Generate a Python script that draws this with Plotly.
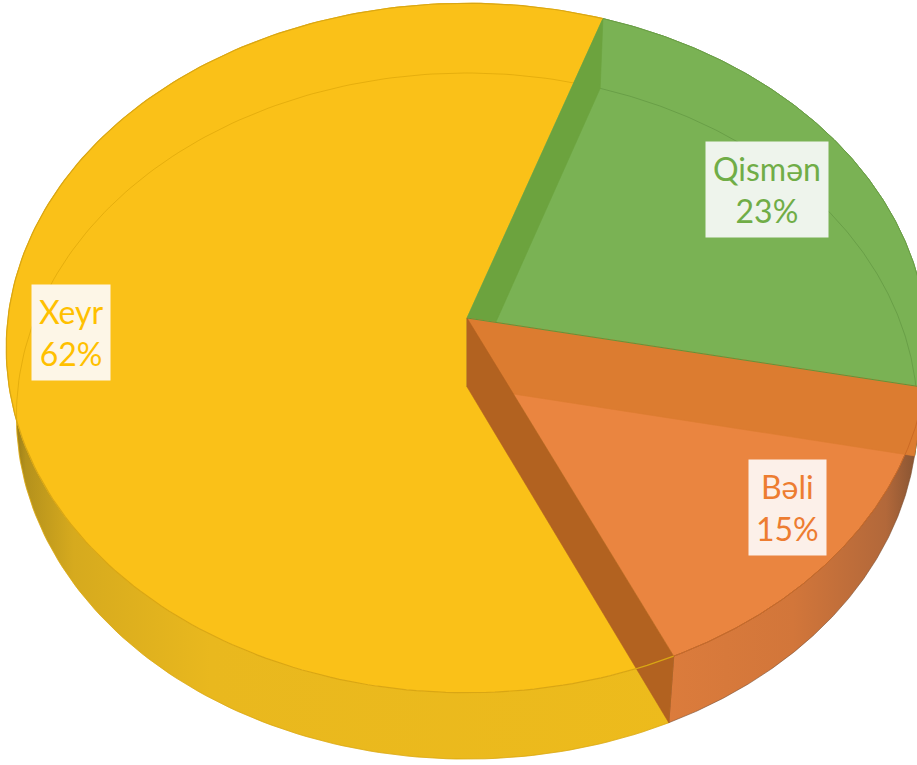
import numpy as np
import plotly.graph_objects as go

# ---------------- data ----------------
categories = ["Xeyr", "Qismən", "Bəli"]
values = [62, 23, 15]

# ---------------- styles ----------------
first_slice_angle = 155.5          # degrees, clockwise from the back of the pie
top_colors = {"Xeyr": "#FAC118", "Qismən": "#7AB254", "Bəli": "#EA8540"}
label_text_colors = {"Xeyr": "#FFC000", "Qismən": "#70AD47", "Bəli": "#ED7D31"}
label_bg = {"Xeyr": "#FDF6E7", "Qismən": "#EEF4EC", "Bəli": "#FCF0E9"}
label_radius = {"Xeyr": 0.86, "Qismən": 0.78, "Bəli": 0.85}
outer_wall = {
    "Xeyr": dict(type="horizontal", start=5, stop=690,
                 colorscale=[[0, "#7E6614"], [0.03, "#B4911C"], [0.1, "#D6AA1E"],
                             [0.3, "#E9B81E"], [1, "#EDBB1C"]]),
    "Qismən": dict(type="horizontal", start=600, stop=930,
                   colorscale=[[0, "#6AA03E"], [1, "#4E7A30"]]),
    "Bəli": dict(type="horizontal", start=660, stop=926,
                 colorscale=[[0, "#DC7C3C"], [0.5, "#D2763A"], [0.85, "#B2683A"], [1, "#7A4E30"]]),
}
radial_walls = {"Qismən": [("start", "#6CA33E")],
                "Bəli": [("start", "#DC7C30"), ("end", "#B26220")]}
ghost_lines = {"Xeyr": "rgba(205,150,0,0.45)", "Qismən": "rgba(85,135,55,0.45)"}

W, HPX = 917, 765
CX, CY = 467.0, 318.0
S, D = 3516.0, 7.66
PHI = np.radians(48.2)
DEPTH = 0.23


def proj(theta, r, z):
    t = np.radians(np.asarray(theta, float))
    x = r * np.sin(t)
    y = r * np.cos(t)
    depth = D + y * np.cos(PHI) - z * np.sin(PHI)
    px = CX + S * x / depth
    py = CY - S * (y * np.sin(PHI) + z * np.cos(PHI)) / depth
    return np.atleast_1d(px), np.atleast_1d(py)


def arc(t0, t1, z, n=200):
    th = np.linspace(t0, t1, n)
    return proj(th, 1.0, z)


fig = go.Figure()


def poly(xs, ys, color, gradient=None):
    xs = list(xs) + [xs[0]]
    ys = list(ys) + [ys[0]]
    kw = dict(x=xs, y=ys, mode="lines", fill="toself", fillcolor=color,
              line=dict(width=0.6, color=color), hoverinfo="skip", showlegend=False)
    if gradient is not None:
        kw["fillgradient"] = gradient
    fig.add_trace(go.Scatter(**kw))


def line(xs, ys, color, width=1.0):
    fig.add_trace(go.Scatter(x=list(xs), y=list(ys), mode="lines",
                             line=dict(width=width, color=color),
                             hoverinfo="skip", showlegend=False))


total = sum(values)
spans = [v / total * 360.0 for v in values]
starts = list(first_slice_angle + np.concatenate([[0], np.cumsum(spans)[:-1]]))
ends = [s + sp for s, sp in zip(starts, spans)]
slices = {c: (s, e) for c, s, e in zip(categories, starts, ends)}

ax0, ay0 = proj(0, 0, 0)
ax1, ay1 = proj(0, 0, -DEPTH)


def outer(cat):
    s, e = slices[cat]
    tx, ty = arc(s, e, 0)
    bx, by = arc(s, e, -DEPTH)
    poly(np.concatenate([tx, bx[::-1]]), np.concatenate([ty, by[::-1]]),
         outer_wall[cat]["colorscale"][-1][1], outer_wall[cat])


def top(cat):
    s, e = slices[cat]
    tx, ty = arc(s, e, 0)
    poly(np.concatenate([[ax0[0]], tx]), np.concatenate([[ay0[0]], ty]), top_colors[cat])


def radial(cat):
    for which, col in radial_walls.get(cat, []):
        t = slices[cat][0] if which == "start" else slices[cat][1]
        px0, py0 = proj(t, 1, 0)
        px1, py1 = proj(t, 1, -DEPTH)
        poly([ax0[0], px0[0], px1[0], ax1[0]], [ay0[0], py0[0], py1[0], ay1[0]], col)


# yellow and green: walls then tops
outer("Xeyr")
outer("Qismən")
top("Xeyr")
top("Qismən")
for cat, col in ghost_lines.items():
    s, e = slices[cat]
    gx, gy = arc(s, e, -DEPTH)
    line(gx, gy, col, 1.0)
radial("Qismən")

# orange slice
top("Bəli")
outer("Bəli")
radial("Bəli")

# edges
s, e = slices["Xeyr"]
ex, ey = arc(s, e, 0)
line(ex, ey, "#D9A614", 1.2)
s, e = slices["Qismən"]
ex, ey = arc(s, e, 0)
line(ex, ey, "#6A9E45", 1.0)
s, e = slices["Bəli"]
ex, ey = arc(s, e, 0)
line(ex, ey, "#CC6A25", 1.0)
px, py = proj(slices["Bəli"][0], 1, 0)
line([ax0[0], px[0]], [ay0[0], py[0]], "#5E963A", 1.0)

# labels
for cat, v in zip(categories, values):
    s, e = slices[cat]
    mid = (s + e) / 2
    lx, ly = proj(mid, label_radius[cat], 0)
    pct = round(v / total * 100)
    fig.add_annotation(x=lx[0], y=ly[0], xref="x", yref="y",
                       text=f"{cat}<br>{pct}%", showarrow=False,
                       font=dict(family="Lato, Open Sans, sans-serif", size=32,
                                 color=label_text_colors[cat]),
                       bgcolor=label_bg[cat], borderpad=7,
                       xanchor="center", yanchor="middle", align="center")

fig.update_layout(
    width=W, height=HPX,
    margin=dict(l=0, r=0, t=0, b=0),
    paper_bgcolor="white", plot_bgcolor="white",
    showlegend=False,
    xaxis=dict(range=[0, W], visible=False, fixedrange=True),
    yaxis=dict(range=[HPX, 0], visible=False, fixedrange=True),
)

fig.write_html("out.html", config={"displayModeBar": False},
               post_script="document.body.style.margin='0';"
                           "document.body.style.overflow='hidden';")
